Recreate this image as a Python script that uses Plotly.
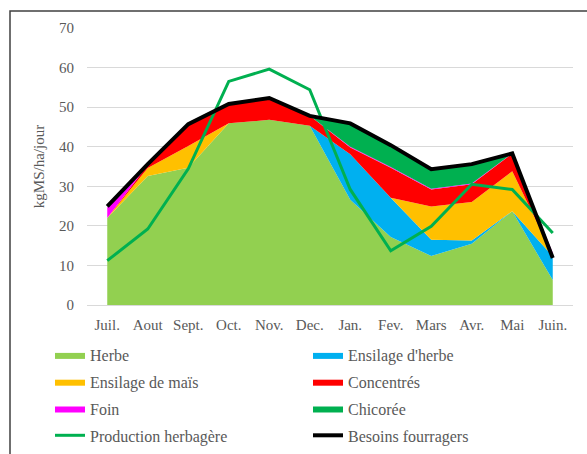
import plotly.graph_objects as go

# Months of the forage year
months = ["Juil.", "Aout", "Sept.", "Oct.", "Nov.", "Dec.",
          "Jan.", "Fev.", "Mars", "Avr.", "Mai", "Juin."]

# Feed supply by source (kgMS/ha/jour), stacked in this order
herbe = [22.0, 32.6, 34.7, 45.9, 46.8, 45.3, 26.6, 17.2, 12.4, 15.5, 23.7, 6.3]
ensilage_herbe = [0, 0, 0, 0, 0, 0, 11.5, 9.9, 4.1, 0.8, 0, 6.0]
ensilage_mais = [0, 2.0, 5.5, 0, 0, 0, 0, 0, 8.4, 9.7, 10.1, 0.3]
concentres = [0, 0.8, 5.5, 4.9, 5.5, 2.5, 1.7, 7.6, 4.3, 4.5, 4.5, 0]
foin = [2.7, 0, 0, 0, 0, 0, 0.2, 0.2, 0.2, 0.2, 0, 0.6]
chicoree = [0, 0, 0, 0, 0, 0, 5.9, 5.7, 4.9, 4.9, 0, 0]

# Grass growth and herd requirements
production_herbagere = [11.2, 19.2, 34.4, 56.5, 59.6, 54.4, 29.2, 13.7, 19.9, 30.5, 29.2, 18.2]
besoins_fourragers = [24.9, 35.6, 45.7, 50.8, 52.3, 47.8, 45.9, 40.4, 34.3, 35.6, 38.3, 11.9]

y_ticks = [0, 10, 20, 30, 40, 50, 60, 70]

FONT = "Times New Roman, Liberation Serif, serif"
TEXT = "#595959"

# Plot area geometry in pixels
W, H = 587, 454
L, R, T, B = 87, 14, 28, 149
PW, PH = W - L - R, H - T - B


def px_x(px):
    return (px - L) / PW


def px_y(py):
    return (H - B - py) / PH


# (name, values, colour, legend column)
areas = [
    ("Herbe", herbe, "#92d050", "legend"),
    ("Ensilage d'herbe", ensilage_herbe, "#00b0f0", "legend2"),
    ("Ensilage de maïs", ensilage_mais, "#ffc000", "legend"),
    ("Concentrés", concentres, "#ff0000", "legend2"),
    ("Foin", foin, "#ff00ff", "legend"),
    ("Chicorée", chicoree, "#00b050", "legend2"),
]

fig = go.Figure()
for name, vals, col, leg in areas:
    fig.add_trace(go.Scatter(
        x=months, y=vals, name=name, mode="lines",
        stackgroup="feed", line=dict(width=0, color=col),
        fillcolor=col, legend=leg, legendgroup=name,
    ))

fig.add_trace(go.Scatter(
    x=months, y=production_herbagere, name="Production herbagère",
    mode="lines", line=dict(color="#00b050", width=3),
    legend="legend", legendgroup="prod",
))
fig.add_trace(go.Scatter(
    x=months, y=besoins_fourragers, name="Besoins fourragers",
    mode="lines", line=dict(color="#000000", width=4),
    legend="legend2", legendgroup="besoins",
))

# Outer chart frame (top and left edges visible)
fig.add_shape(type="rect", xref="paper", yref="paper",
              x0=px_x(10), x1=px_x(600), y0=px_y(470), y1=px_y(11),
              line=dict(color="#404040", width=1.5), layer="below")

legend_common = dict(
    orientation="v", yanchor="top", xanchor="left",
    font=dict(family=FONT, size=16, color=TEXT),
    traceorder="grouped", itemwidth=30, bgcolor="rgba(0,0,0,0)",
    tracegroupgap=3, borderwidth=0,
)

fig.update_layout(
    width=W, height=H,
    margin=dict(l=L, r=R, t=T, b=B, autoexpand=False),
    paper_bgcolor="white", plot_bgcolor="white",
    font=dict(family=FONT, color=TEXT, size=15),
    showlegend=True,
    legend=dict(x=px_x(50), y=px_y(338), **legend_common),
    legend2=dict(x=px_x(308), y=px_y(338), **legend_common),
    xaxis=dict(
        type="category", range=[-0.5, 11.5],
        showgrid=False, showline=True, linecolor="#d9d9d9", linewidth=1,
        ticks="", tickfont=dict(family=FONT, size=15, color=TEXT),
        ticklabelstandoff=6,
    ),
    yaxis=dict(
        range=[0, 70], tickvals=y_ticks, showgrid=True,
        gridcolor="#d9d9d9", gridwidth=1, zeroline=False, showline=False,
        ticks="", tickfont=dict(family=FONT, size=15, color=TEXT),
        ticklabelstandoff=12,
        title=dict(text="kgMS/ha/jour", font=dict(family=FONT, size=15, color=TEXT),
                   standoff=10),
    ),
)

fig.write_html("out.html")
